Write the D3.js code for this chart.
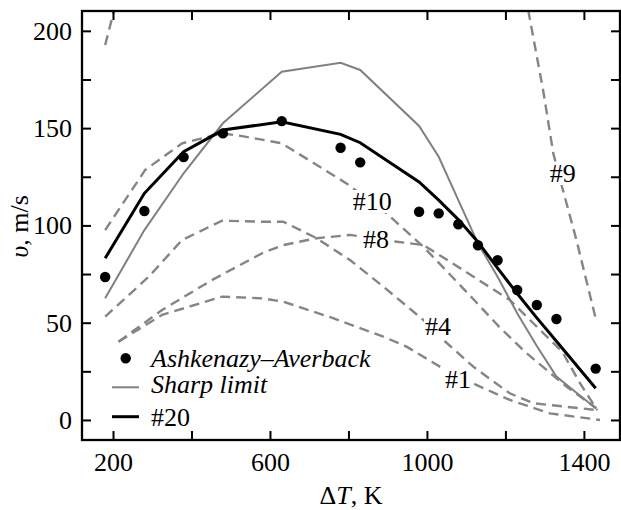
<!DOCTYPE html>
<html>
<head>
<meta charset="utf-8">
<script src="https://cdn.jsdelivr.net/npm/d3@7"></script>
<style>
  body { margin: 0; background: #fff; }
  svg text { font-family: "Liberation Serif", "DejaVu Serif", serif; fill: #000; }
</style>
</head>
<body>
<svg id="chart" width="621" height="510"></svg>
<script>
// temperatures of the MD runs (K) and the measured / computed velocities (m/s)
const temps = [180, 280, 380, 480, 630, 780, 830, 980, 1030, 1080, 1130, 1180, 1230, 1280, 1330, 1430];
const ashkenazy = [73.5, 107.4, 135.1, 147.3, 153.6, 139.9, 132.4, 107, 106.2, 100.6, 89.8, 82.1, 66.8, 59.1, 51.9, 26.4];
const run20 = [83.1, 116.5, 137.9, 149, 153.3, 146.8, 142.5, 122.3, 113, 103, 91.5, 78, 65, 52.5, 40.5, 16.3];
const sharpLimit = [62.5, 97.6, 126.8, 152.5, 179, 183.6, 179.9, 151.1, 135.3, 113, 90.8, 73.6, 54.8, 38, 22.3, 6.0];

// dashed model curves, [dT, v]
const curve1 = [[214, 40.2], [325, 54], [478, 63.4], [580, 62.5], [634, 60.8], [761, 52.3], [889, 42.8], [948, 37.7], [1033, 27.4], [1126, 18], [1211, 10.3], [1313, 3.4], [1441, 0]];
const curve4 = [[180, 53.1], [291, 73.6], [376, 92.5], [478, 102.4], [580, 101.9], [634, 101.9], [719, 93.4], [804, 82.2], [889, 68.5], [991, 51.4], [1042, 41.1], [1118, 27.4], [1211, 13.7], [1271, 8.6], [1432, 5.1]];
const curve8 = [[214, 40.2], [325, 56.5], [452, 71.9], [580, 85.7], [634, 89.9], [719, 93.4], [804, 95.1], [923, 91.6], [991, 89.9], [1059, 81.3], [1211, 61.7], [1271, 49.7], [1345, 35], [1390, 18.9], [1434, 5.1]];
const curve10 = [[180, 97.6], [282, 128.5], [376, 142.2], [478, 147.3], [529, 145.9], [630, 142.2], [795, 121.6], [897, 106.2], [991, 89], [1100, 66], [1186, 47.5], [1254, 34.3], [1356, 17.1], [1432, 6.0]];
const curve9low = [[180, 192.7], [203, 210.7]];
const curve9high = [[1258, 210.7], [1296, 169.6], [1322, 137], [1343, 120.8], [1381, 92.5], [1432, 50.5]];

const curveLabels = [
  {text: "#10", T: 811, v: 107.9},
  {text: "#8", T: 837, v: 88.4},
  {text: "#4", T: 995, v: 43.7},
  {text: "#1", T: 1046, v: 16.4},
  {text: "#9", T: 1313, v: 122.3}
];

const xTicks = [200, 400, 600, 800, 1000, 1200, 1400];
const xLabels = [200, 600, 1000, 1400];
const yTicks = [0, 25, 50, 75, 100, 125, 150, 175, 200];
const yLabels = [0, 50, 100, 150, 200];

const fontFam = "'Liberation Serif', 'DejaVu Serif', serif";

const svg = d3.select("#chart");
const plotLeft = 82, plotRight = 620, plotTop = 11, plotBottom = 440;

const x = d3.scaleLinear().domain([121, 1492]).range([plotLeft, plotRight]);
const y = d3.scaleLinear().domain([-10.3, 210.2]).range([plotBottom, plotTop]);

svg.append("defs").append("clipPath").attr("id", "plotclip")
  .append("rect").attr("x", plotLeft).attr("y", plotTop)
  .attr("width", plotRight - plotLeft).attr("height", plotBottom - plotTop);

const plot = svg.append("g").attr("clip-path", "url(#plotclip)");

const line = d3.line().x(d => x(d[0])).y(d => y(d[1]));

// dashed curves
[curve1, curve4, curve8, curve10, curve9low, curve9high].forEach(c => {
  plot.append("path")
    .attr("d", line(c))
    .attr("fill", "none")
    .attr("stroke", "#858585")
    .attr("stroke-width", 2.4)
    .attr("stroke-dasharray", "10,6");
});

// sharp limit
plot.append("path")
  .attr("d", line(temps.map((t, i) => [t, sharpLimit[i]])))
  .attr("fill", "none")
  .attr("stroke", "#808080")
  .attr("stroke-width", 2);

// #20
plot.append("path")
  .attr("d", line(temps.map((t, i) => [t, run20[i]])))
  .attr("fill", "none")
  .attr("stroke", "#000")
  .attr("stroke-width", 3);

// Ashkenazy-Averback points
plot.selectAll("circle.aa")
  .data(temps.map((t, i) => [t, ashkenazy[i]]))
  .enter().append("circle")
  .attr("class", "aa")
  .attr("cx", d => x(d[0]))
  .attr("cy", d => y(d[1]))
  .attr("r", 5.2)
  .attr("fill", "#000");

// curve labels with white background
curveLabels.forEach(l => {
  const g = svg.append("g");
  const t = g.append("text")
    .attr("x", x(l.T))
    .attr("y", y(l.v))
    .attr("font-size", 26)
    .style("font-family", fontFam)
    .text(l.text);
  const b = t.node().getBBox();
  g.insert("rect", "text")
    .attr("x", b.x - 1).attr("y", b.y + 3)
    .attr("width", b.width + 2).attr("height", b.height - 6)
    .attr("fill", "#fff");
});

// axes
function styleAxis(g) {
  g.select(".domain").remove();
  g.attr("font-family", null);
  g.selectAll(".tick line").attr("stroke", "#000").attr("stroke-width", 2);
  g.selectAll("text").attr("font-size", 26).style("font-family", fontFam);
}

svg.append("g").attr("transform", `translate(0,${plotBottom})`)
  .call(d3.axisBottom(x).tickValues(xTicks).tickSizeInner(-9).tickSizeOuter(0).tickPadding(13)
    .tickFormat(d => xLabels.includes(d) ? d : ""))
  .call(styleAxis);

svg.append("g").attr("transform", `translate(0,${plotTop})`)
  .call(d3.axisTop(x).tickValues(xTicks).tickSizeInner(-9).tickSizeOuter(0).tickFormat(""))
  .call(styleAxis);

svg.append("g").attr("transform", `translate(${plotLeft},0)`)
  .call(d3.axisLeft(y).tickValues(yTicks).tickSizeInner(-9).tickSizeOuter(0).tickPadding(10)
    .tickFormat(d => yLabels.includes(d) ? d : ""))
  .call(styleAxis);

svg.append("g").attr("transform", `translate(${plotRight},0)`)
  .call(d3.axisRight(y).tickValues(yTicks).tickSizeInner(-9).tickSizeOuter(0).tickFormat(""))
  .call(styleAxis);

svg.append("rect")
  .attr("x", plotLeft).attr("y", plotTop)
  .attr("width", plotRight - plotLeft).attr("height", plotBottom - plotTop)
  .attr("fill", "none").attr("stroke", "#000").attr("stroke-width", 2.3);

// axis titles
const xt = svg.append("text")
  .attr("x", (plotLeft + plotRight) / 2)
  .attr("y", 504)
  .attr("text-anchor", "middle")
  .attr("font-size", 26)
  .style("font-family", fontFam);
xt.append("tspan").text("Δ");
xt.append("tspan").attr("font-style", "italic").text("T");
xt.append("tspan").text(", K");

const yt = svg.append("text")
  .attr("transform", `translate(28,${(plotTop + plotBottom) / 2 + 1}) rotate(-90)`)
  .attr("text-anchor", "middle")
  .attr("font-size", 26)
  .style("font-family", fontFam);
yt.append("tspan").attr("font-style", "italic").text("υ");
yt.append("tspan").text(", m/s");

// legend
const legend = svg.append("g").style("font-family", fontFam);
legend.append("circle").attr("cx", 125.7).attr("cy", 358.3).attr("r", 5.2).attr("fill", "#000");
legend.append("text").attr("x", 151).attr("y", 366.7).attr("font-size", 26)
  .attr("font-style", "italic").text("Ashkenazy–Averback");
legend.append("line").attr("x1", 112).attr("x2", 139).attr("y1", 387.3).attr("y2", 387.3)
  .attr("stroke", "#808080").attr("stroke-width", 2);
legend.append("text").attr("x", 151).attr("y", 393).attr("font-size", 26)
  .attr("font-style", "italic").text("Sharp limit");
legend.append("line").attr("x1", 112).attr("x2", 139).attr("y1", 416.7).attr("y2", 416.7)
  .attr("stroke", "#000").attr("stroke-width", 3);
legend.append("text").attr("x", 151).attr("y", 426).attr("font-size", 26).text("#20");
</script>
</body>
</html>
